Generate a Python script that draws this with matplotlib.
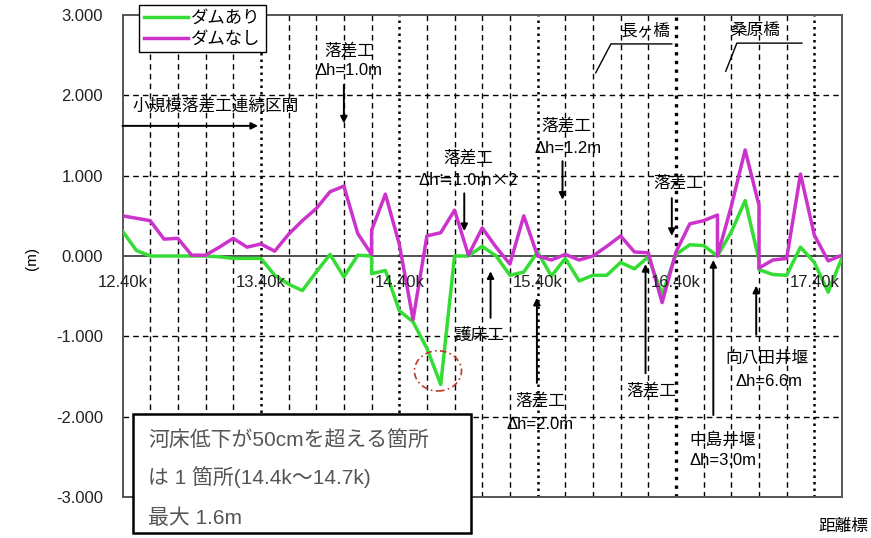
import matplotlib.pyplot as plt
import numpy as np
from matplotlib.patches import Ellipse, Rectangle

plt.rcParams['font.family'] = ['Liberation Sans', 'Noto Sans CJK JP']
plt.rcParams['axes.unicode_minus'] = False

# 距離標 [km]（落差工地点は同じ距離に2点）
dist = [12.4, 12.5, 12.6, 12.7, 12.8, 12.9, 13.0, 13.1, 13.2, 13.3,
        13.4, 13.5, 13.6, 13.7, 13.8, 13.9, 14.0, 14.1, 14.2, 14.2,
        14.3, 14.4, 14.5, 14.6, 14.7, 14.8, 14.9, 15.0, 15.1, 15.2,
        15.3, 15.4, 15.5, 15.6, 15.7, 15.8, 15.9, 16.0, 16.1, 16.2,
        16.3, 16.4, 16.5, 16.6, 16.7, 16.7, 16.8, 16.9, 17.0, 17.0,
        17.1, 17.2, 17.3, 17.4, 17.5, 17.6]

# 河床変動量 [m]
with_dam = [0.31, 0.07, 0.00, 0.00, 0.00, 0.00, 0.00, -0.01, -0.03, -0.03,
            -0.03, -0.24, -0.35, -0.43, -0.20, 0.02, -0.26, 0.01, 0.00, -0.22,
            -0.18, -0.68, -0.82, -1.15, -1.60, 0.00, 0.00, 0.12, 0.00, -0.24,
            -0.20, 0.05, -0.25, -0.03, -0.31, -0.24, -0.24, -0.08, -0.16, -0.01,
            -0.48, 0.02, 0.14, 0.13, 0.00, 0.00, 0.30, 0.69, -0.05, -0.17,
            -0.23, -0.24, 0.11, -0.08, -0.45, -0.02]
without_dam = [0.50, 0.47, 0.44, 0.21, 0.22, 0.01, 0.01, 0.11, 0.22, 0.11,
               0.15, 0.06, 0.27, 0.44, 0.59, 0.80, 0.87, 0.28, 0.02, 0.32,
               0.77, 0.15, -0.79, 0.25, 0.29, 0.57, 0.01, 0.35, 0.11, -0.10,
               0.50, 0.00, -0.05, 0.02, -0.05, 0.00, 0.12, 0.25, 0.05, 0.04,
               -0.58, 0.05, 0.40, 0.44, 0.51, 0.00, 0.62, 1.32, 0.63, -0.15,
               -0.05, -0.03, 1.02, 0.26, -0.06, 0.01]

km_ticks = [12.4, 13.4, 14.4, 15.4, 16.4, 17.4]
km_labels = ['12.40k', '13.40k', '14.40k', '15.40k', '16.40k', '17.40k']
y_ticks = [-3, -2, -1, 0, 1, 2, 3]

W, H = 871, 538
fig = plt.figure(figsize=(W / 100, H / 100), dpi=100)
ax = fig.add_axes([122.5 / W, 1 - 497 / H, 719.5 / W, 482 / H])


def px(x, y):
    # pixel position -> figure fraction
    return x / W, 1 - y / H


ax.set_xlim(12.4, 17.6)
ax.set_ylim(-3, 3)

# grid
for xv in np.arange(12.6, 17.55, 0.2):
    if any(abs(xv - k) < 1e-6 for k in km_ticks):
        lw = 2.4 if abs(xv - 16.4) < 1e-6 else 1.8
        ax.axvline(xv, color='black', lw=lw, ls=(0, (1, 1.6)), zorder=1)
    else:
        ax.axvline(xv, color='black', lw=1.0, ls=(0, (4, 3)), zorder=1)
for yv in [-2, -1, 1, 2]:
    ax.axhline(yv, color='black', lw=1.0, ls=(0, (4, 3)), zorder=1)
ax.axhline(0, color='#333333', lw=1.2, zorder=1)

ax.plot(dist, with_dam, color='#33dd33', lw=2.5, label='ダムあり', zorder=3)
ax.plot(dist, without_dam, color='#cc33cc', lw=2.5, label='ダムなし', zorder=4)

ax.set_xticks([])
ax.set_yticks(y_ticks)
ax.set_yticklabels([f'{v:.3f}' for v in y_ticks], fontsize=12, color='#222222')
ax.tick_params(axis='y', length=0, pad=14)
for s in ax.spines.values():
    s.set_color('#555555')
    s.set_linewidth(1.4)

for k, lab in zip(km_ticks, km_labels):
    ax.text(k, -0.33, lab, fontsize=12, ha='center', va='center', color='#222222', zorder=5)

leg = ax.legend(loc='upper left', bbox_to_anchor=(0.023, 1.021), borderaxespad=0,
                fontsize=12.5, handlelength=2.5, handletextpad=0.2, borderpad=0.3,
                labelspacing=0.3, fancybox=False, edgecolor='black', framealpha=1)
leg.get_frame().set_linewidth(1.0)

arrow = dict(arrowstyle='-|>', color='black', lw=1.4, mutation_scale=10, shrinkA=0, shrinkB=0)

# 小規模落差工連続区間
ax.text(12.475, 1.87, '小規模落差工連続区間', fontsize=12, ha='left', va='center')
ax.annotate('', xy=(13.38, 1.62), xytext=(12.4, 1.62), arrowprops=arrow)

# 上から指す構造物
ax.text(14.04, 2.56, '落差工', fontsize=12, ha='center', va='center')
ax.text(14.04, 2.31, 'Δh=1.0m', fontsize=12, ha='center', va='center')
ax.annotate('', xy=(14.0, 1.65), xytext=(14.0, 2.13), arrowprops=arrow)

ax.text(14.90, 1.22, '落差工', fontsize=12, ha='center', va='center')
ax.text(14.90, 0.94, 'Δh≒1.0m×2', fontsize=12, ha='center', va='center',
        family=['Noto Sans CJK JP', 'DejaVu Sans'])
ax.annotate('', xy=(14.87, 0.31), xytext=(14.87, 0.78), arrowprops=arrow)

ax.text(15.61, 1.62, '落差工', fontsize=12, ha='center', va='center')
ax.text(15.62, 1.34, 'Δh=1.2m', fontsize=12, ha='center', va='center')
ax.annotate('', xy=(15.58, 0.70), xytext=(15.58, 1.18), arrowprops=arrow)

ax.text(16.42, 0.91, '落差工', fontsize=12, ha='center', va='center')
ax.annotate('', xy=(16.37, 0.25), xytext=(16.37, 0.72), arrowprops=arrow)

# 橋梁
ax.text(16.18, 2.81, '長ヶ橋', fontsize=12, ha='center', va='center')
ax.plot([16.37, 15.93, 15.82], [2.64, 2.64, 2.28], color='black', lw=1.0, zorder=5)
ax.text(16.97, 2.81, '桑原橋', fontsize=12, ha='center', va='center')
ax.plot([17.31, 16.84, 16.76], [2.65, 2.65, 2.30], color='black', lw=1.0, zorder=5)

# 下から指す構造物
ax.text(14.98, -0.98, '護床工', fontsize=12, ha='center', va='center')
ax.annotate('', xy=(15.06, -0.19), xytext=(15.06, -0.77), arrowprops=arrow)

ax.text(15.42, -1.80, '落差工', fontsize=12, ha='center', va='center')
ax.text(15.42, -2.10, 'Δh=2.0m', fontsize=12, ha='center', va='center')
ax.annotate('', xy=(15.395, -0.52), xytext=(15.395, -1.58), arrowprops=arrow)

ax.text(16.22, -1.68, '落差工', fontsize=12, ha='center', va='center')
ax.annotate('', xy=(16.18, -0.10), xytext=(16.18, -1.46), arrowprops=arrow)

ax.text(16.74, -2.29, '中島井堰', fontsize=12, ha='center', va='center')
ax.text(16.74, -2.55, 'Δh=3.0m', fontsize=12, ha='center', va='center')
ax.annotate('', xy=(16.67, -0.05), xytext=(16.67, -1.98), arrowprops=arrow)

ax.text(17.06, -1.27, '向八田井堰', fontsize=12, ha='center', va='center')
ax.text(17.07, -1.56, 'Δh=6.6m', fontsize=12, ha='center', va='center')
ax.annotate('', xy=(16.98, -0.37), xytext=(16.98, -0.98), arrowprops=arrow)

# 最大低下箇所
ax.add_patch(Ellipse((14.68, -1.43), 0.34, 0.50, fill=False, ec='#c0392b',
                     lw=1.2, ls=(0, (4, 2, 1, 2)), zorder=5))

# 注記ボックス
x0, y0 = px(133, 533)
x1, y1 = px(471, 414)
fig.add_artist(Rectangle((x0, y0), x1 - x0, y1 - y0, transform=fig.transFigure,
                         fc='white', ec='black', lw=1.8, zorder=10))
notes = ['河床低下が50cmを超える箇所', 'は 1 箇所(14.4k～14.7k)', '最大 1.6m']
for txt, yy in zip(notes, [440, 477, 518]):
    fig.text(*px(148, yy), txt, fontsize=15, color='#555555', ha='left', va='center', zorder=11)

fig.text(*px(32, 258), '(m)', fontsize=11, rotation=90, ha='center', va='center')
fig.text(*px(843, 526), '距離標', fontsize=12, ha='center', va='center')

fig.savefig('out.png', dpi=100)
